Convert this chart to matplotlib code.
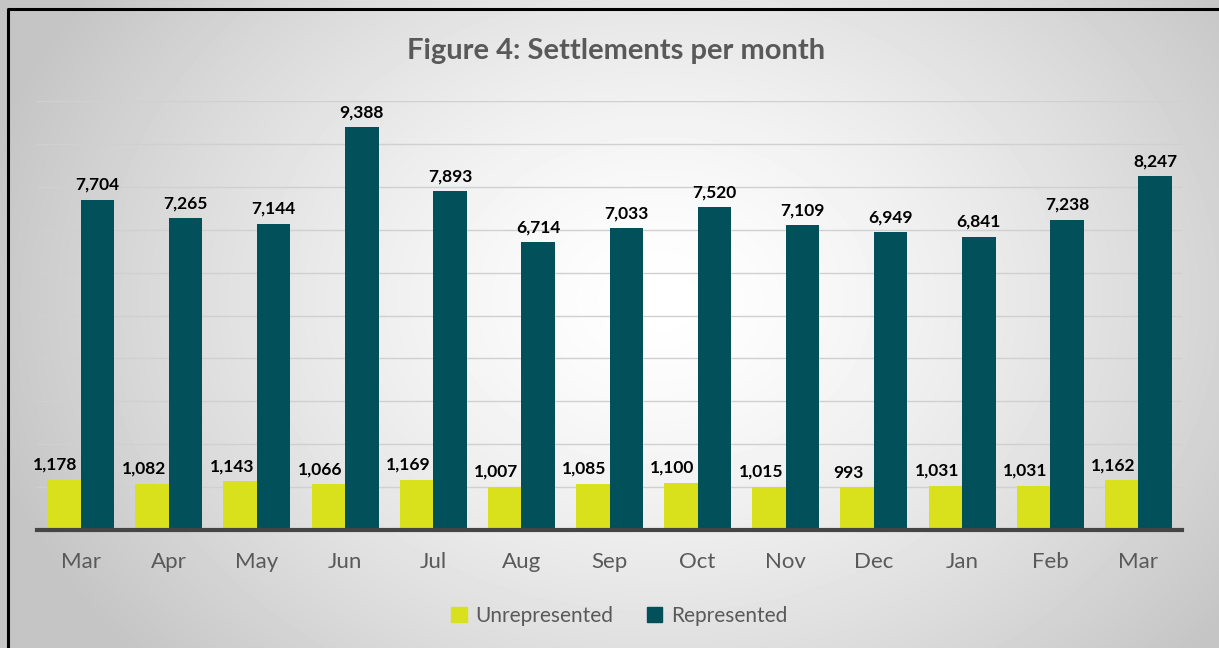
import numpy as np
import matplotlib.pyplot as plt
from matplotlib.patches import Patch

# Settlements per month
months = ["Mar", "Apr", "May", "Jun", "Jul", "Aug", "Sep",
          "Oct", "Nov", "Dec", "Jan", "Feb", "Mar"]
unrepresented = [1178, 1082, 1143, 1066, 1169, 1007, 1085,
                 1100, 1015, 993, 1031, 1031, 1162]
represented = [7704, 7265, 7144, 9388, 7893, 6714, 7033,
               7520, 7109, 6949, 6841, 7238, 8247]

yellow = "#D9E11C"
teal = "#02515A"
grey_txt = "#595959"

plt.rcParams["font.family"] = ["Lato", "DejaVu Sans"]

fig = plt.figure(figsize=(12.19, 6.48), dpi=100)

# radial grey gradient background
bg = fig.add_axes([0, 0, 1, 1], zorder=-10)
yy, xx = np.mgrid[0:648, 0:1219]
r = np.sqrt(((xx - 660) / 720.0) ** 2 + ((yy - 300) / 560.0) ** 2)
shade = np.clip(1.0 - 0.24 * r ** 1.4, 0.77, 1.0)
bg.imshow(shade, cmap="gray", vmin=0, vmax=1, aspect="auto",
          extent=[0, 1219, 648, 0])
bg.plot([8, 8, 1219], [648, 9, 9], color="black", lw=2.2)
bg.set_xlim(0, 1219)
bg.set_ylim(648, 0)
bg.axis("off")

ax = fig.add_axes([0.030, 0.182, 0.940, 0.662])
ax.patch.set_alpha(0)

x = np.arange(len(months))
w = 0.38
ax.bar(x - w / 2, unrepresented, w, color=yellow, zorder=3)
ax.bar(x + w / 2, represented, w, color=teal, zorder=3)

for xi, v in zip(x, unrepresented):
    ax.annotate(f"{v:,}", (xi - w / 2, v), xytext=(-6, 5),
                textcoords="offset points", ha="center", va="bottom",
                fontsize=12.5, fontweight="bold", color="black")
for xi, v in zip(x, represented):
    ax.annotate(f"{v:,}", (xi + w / 2, v), xytext=(0, 5),
                textcoords="offset points", ha="center", va="bottom",
                fontsize=12.5, fontweight="bold", color="black")

ax.set_xlim(-0.5, len(months) - 0.5)
ax.set_ylim(0, 10000)
ax.set_yticks(np.arange(0, 10001, 1000))
ax.yaxis.grid(True, color="#D0D0D0", lw=1, zorder=0)
ax.tick_params(axis="y", left=False, labelleft=False)
ax.set_xticks(x)
ax.set_xticklabels(months, fontsize=16, color=grey_txt)
ax.tick_params(axis="x", length=0, pad=16)
for s in ["top", "right", "left"]:
    ax.spines[s].set_visible(False)
ax.spines["bottom"].set_color("#454545")
ax.spines["bottom"].set_linewidth(3)
ax.spines["bottom"].set_zorder(4)

fig.text(0.505, 0.922, "Figure 4: Settlements per month", ha="center",
         va="center", fontsize=21, fontweight="bold", color=grey_txt)

handles = [Patch(color=yellow, label="Unrepresented"),
           Patch(color=teal, label="Represented")]
fig.legend(handles=handles, loc="center", bbox_to_anchor=(0.508, 0.05),
           ncol=2, frameon=False, fontsize=15, handlelength=0.75,
           handleheight=0.75, handletextpad=0.4, columnspacing=1.6,
           labelcolor=grey_txt)

fig.savefig("out.png", dpi=100)
